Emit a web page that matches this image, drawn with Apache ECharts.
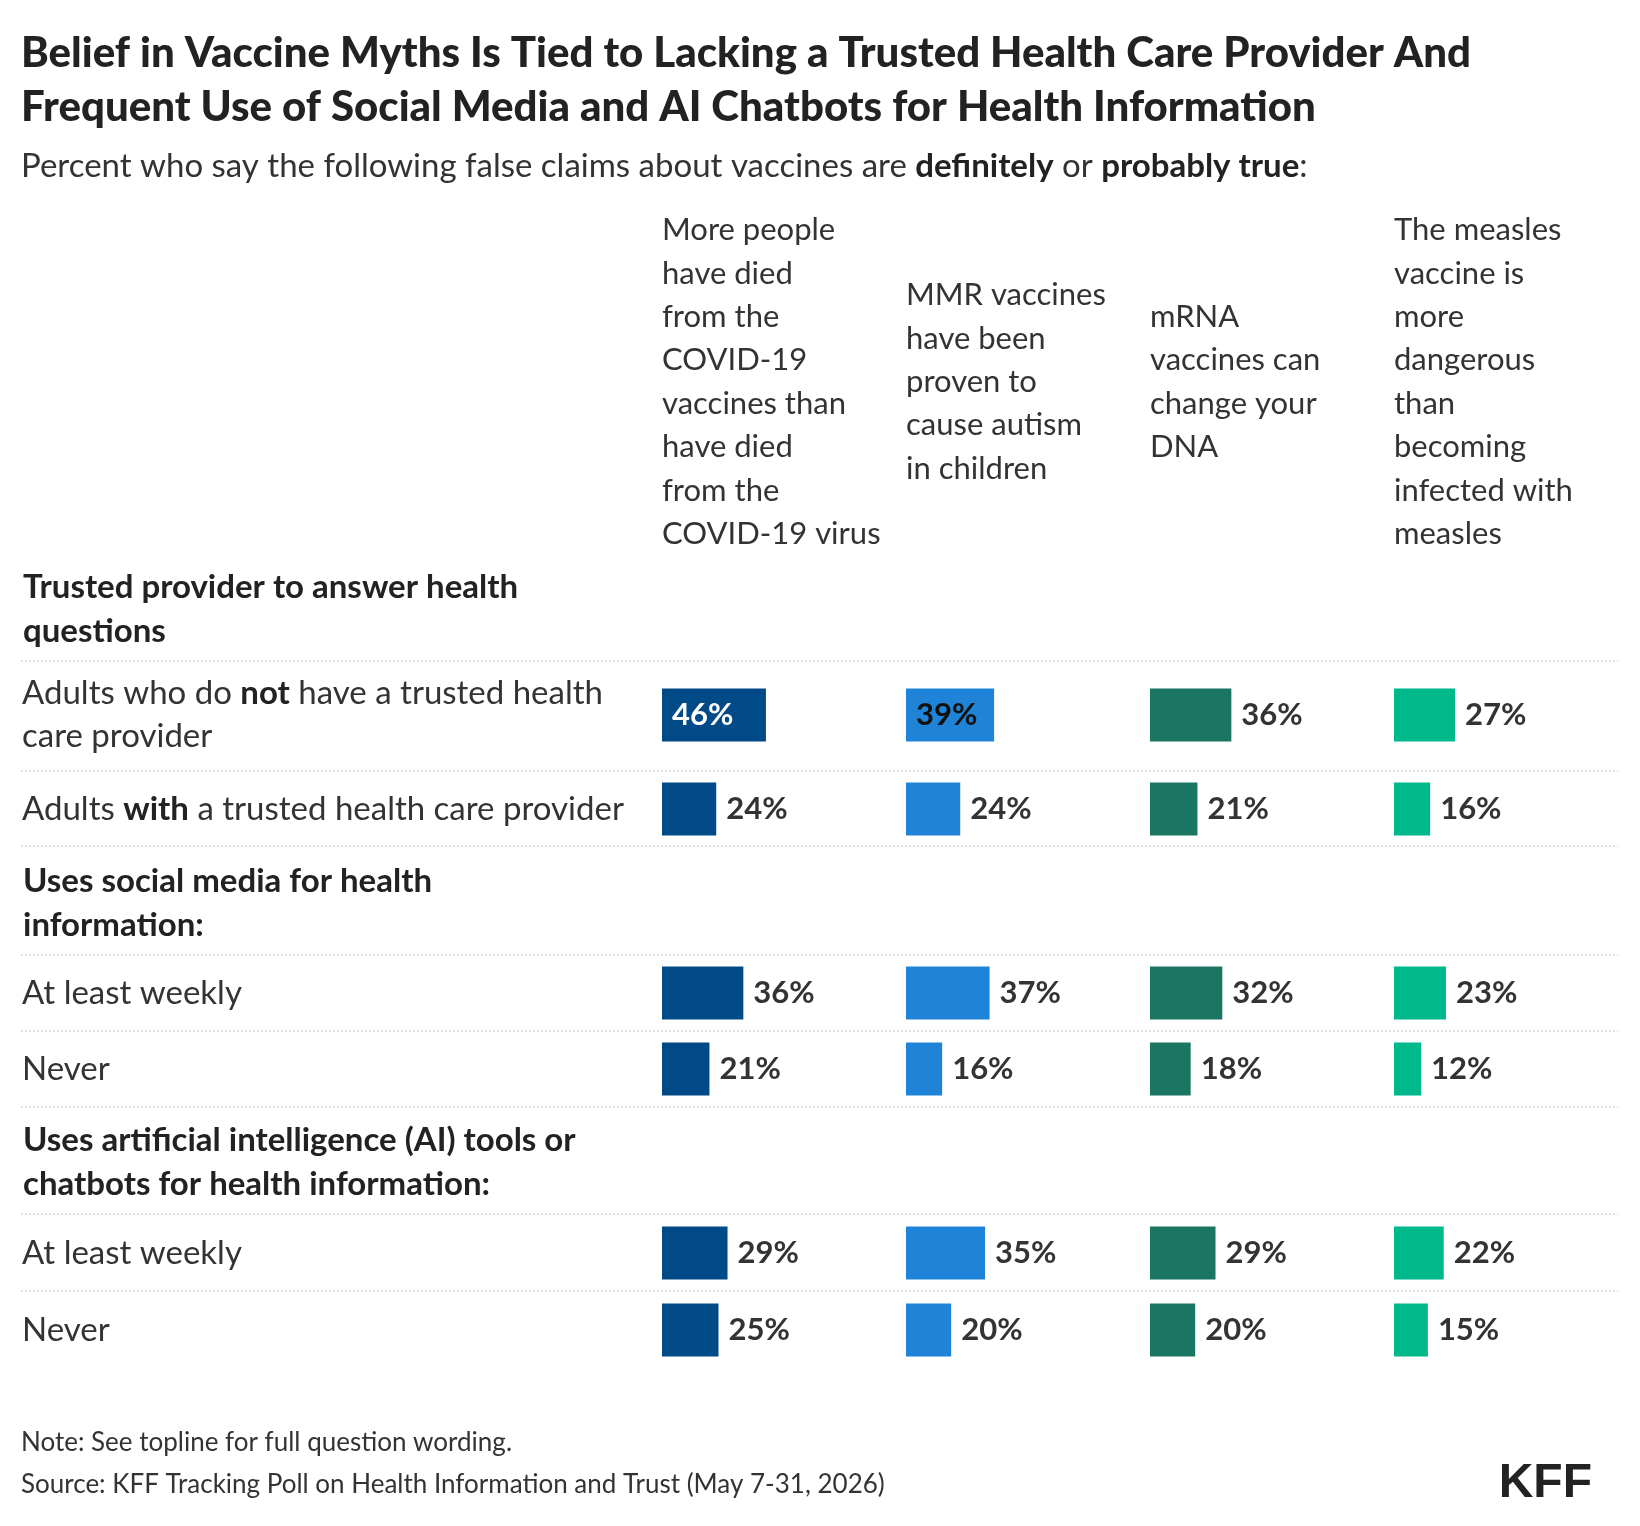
<!DOCTYPE html>
<html><head><meta charset="utf-8">
<script src="https://cdn.jsdelivr.net/npm/echarts@6/dist/echarts.min.js"></script>
<style>html,body{margin:0;background:#fff}#c{width:1640px;height:1526px}</style>
</head><body><div id="c"></div>
<script>
var claims = [
  'More people\nhave died\nfrom the\nCOVID-19\nvaccines than\nhave died\nfrom the\nCOVID-19 virus',
  'MMR vaccines\nhave been\nproven to\ncause autism\nin children',
  'mRNA\nvaccines can\nchange your\nDNA',
  'The measles\nvaccine is\nmore\ndangerous\nthan\nbecoming\ninfected with\nmeasles'
];
var rowLabels = ['Adults who do {b|not} have a trusted health\ncare provider', 'Adults {b|with} a trusted health care provider',
  'At least weekly', 'Never', 'At least weekly', 'Never'];
var groups = ['Trusted provider to answer health\nquestions', 'Uses social media for health\ninformation:',
  'Uses artificial intelligence (AI) tools or\nchatbots for health information:'];
// values per claim, one per row
var covidDeaths = [46, 24, 36, 21, 29, 25];
var mmrAutism = [39, 24, 37, 16, 35, 20];
var mrnaDna = [36, 21, 32, 18, 29, 20];
var measlesDanger = [27, 16, 23, 12, 22, 15];
var series = [covidDeaths, mmrAutism, mrnaDna, measlesDanger];
var colors = ['#004a88', '#1f84d7', '#1a7562', '#00b98a'];

var colX = [662, 906, 1150, 1394];
var rowY = [715, 809, 993, 1069, 1253, 1330];
var groupY = [587, 881, 1140];
var sepY = [661, 771, 846, 955, 1031, 1107, 1214, 1291];
var barH = 53;
var font = 'Lato, "Noto Sans", sans-serif';

var grids = [], xAxes = [], yAxes = [], ser = [], g = [];
series.forEach(function (vals, c) {
  vals.forEach(function (v, r) {
    var i = grids.length;
    grids.push({left: colX[c], top: rowY[r] - barH / 2, width: 244, height: barH});
    xAxes.push({gridIndex: i, type: 'value', min: 0, max: 108, show: false});
    yAxes.push({gridIndex: i, type: 'category', data: [''], show: false});
    var inside = v >= 38;
    ser.push({type: 'bar', xAxisIndex: i, yAxisIndex: i, barWidth: barH, data: [v],
      itemStyle: {color: colors[c]}, silent: true,
      label: {show: true, position: inside ? 'insideLeft' : 'right', distance: 10,
        formatter: '{c}%', fontFamily: font, fontSize: 31, fontWeight: 'bold',
        color: inside ? (c === 0 ? '#fff' : '#111') : '#333'}});
  });
  var n = claims[c].split('\n').length;
  g.push({type: 'text', left: colX[c], top: 382 - n * 43.4 / 2, style: {text: claims[c], fontFamily: font, fontSize: 31,
    lineHeight: 43.4, fill: '#333'}});
});
g.push({type: 'text', left: 21, top: 26, style: {text: 'Belief in Vaccine Myths Is Tied to Lacking a Trusted Health Care Provider And\nFrequent Use of Social Media and AI Chatbots for Health Information',
  fontFamily: font, fontSize: 42, fontWeight: 900, lineHeight: 54, fill: '#222'}});
g.push({type: 'text', left: 21, top: 150, style: {text: 'Percent who say the following false claims about vaccines are {b|definitely} or {b|probably true}:',
  fontFamily: font, fontSize: 33, fill: '#333', rich: {b: {fontFamily: font, fontSize: 33, fontWeight: 'bold', fill: '#222'}}}});
groups.forEach(function (t, k) {
  g.push({type: 'text', left: 23, top: groupY[k] - 22, style: {text: t, fontFamily: font, fontSize: 33, fontWeight: 'bold',
    lineHeight: 44, fill: '#222'}});
});
rowLabels.forEach(function (t, r) {
  var n = t.split('\n').length;
  g.push({type: 'text', left: 22, top: rowY[r] - n * 43 / 2, style: {text: t, fontFamily: font, fontSize: 33,
    lineHeight: 43, fill: '#333', rich: {b: {fontFamily: font, fontSize: 33, fontWeight: 'bold', fill: '#222'}}}});
});
sepY.forEach(function (y) {
  g.push({type: 'line', shape: {x1: 21, y1: y, x2: 1618, y2: y}, style: {stroke: '#ccc', lineWidth: 1.2, lineDash: [2, 2]}});
});
g.push({type: 'text', left: 21, top: 1430, style: {text: 'Note: See topline for full question wording.', fontFamily: font, fontSize: 26, fill: '#333'}});
g.push({type: 'text', left: 21, top: 1472, style: {text: 'Source: KFF Tracking Poll on Health Information and Trust (May 7-31, 2026)', fontFamily: font, fontSize: 26, fill: '#333'}});
g.push({type: 'text', right: 48, top: 1460, style: {text: 'KFF', fontFamily: '"Liberation Sans", Arial, sans-serif', fontSize: 48, fontWeight: 'bold', fill: '#222'}});

var chart = echarts.init(document.getElementById('c'));
chart.setOption({animation: false, grid: grids, xAxis: xAxes, yAxis: yAxes, series: ser, graphic: g});
</script></body></html>
